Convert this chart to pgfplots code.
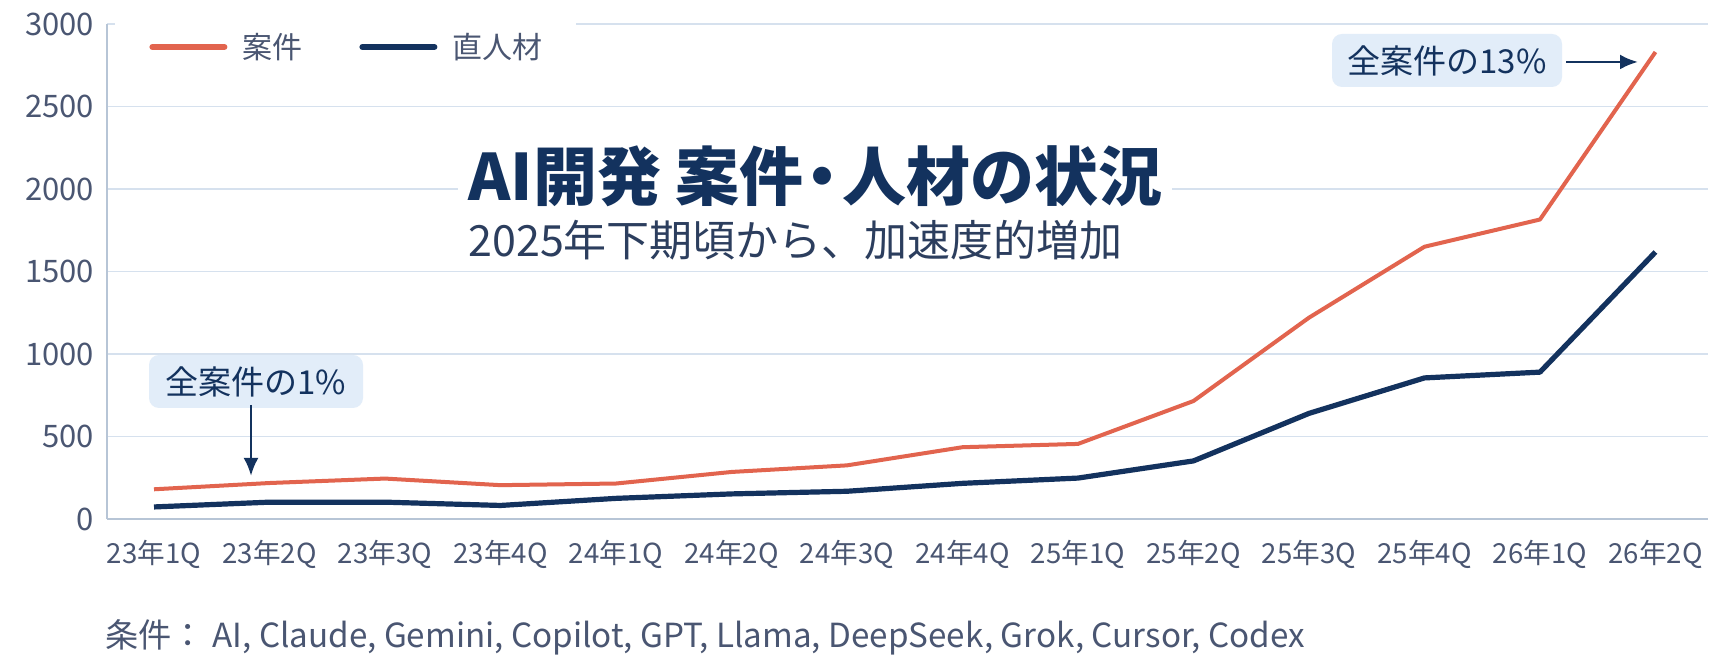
\documentclass[border=0pt]{standalone}
\usepackage{fontspec}
\setmainfont{Noto Sans CJK JP}
\usepackage{pgfplots}
\pgfplotsset{compat=1.18}
\usetikzlibrary{arrows.meta}

\definecolor{anken}{HTML}{E2644E}
\definecolor{jinzai}{HTML}{13325E}
\definecolor{gridc}{HTML}{D6E1EE}
\definecolor{axisc}{HTML}{B7C5D6}
\definecolor{tickc}{HTML}{4A5672}
\definecolor{boxc}{HTML}{E2EDF9}
\definecolor{subc}{HTML}{2C3E5E}

% quarterly counts
\pgfplotstableread{
q  anken jinzai
0  180   73
1  218   102
2  245   102
3  205   82
4  215   125
5  285   152
6  325   168
7  435   216
8  455   248
9  715   352
10 1220  640
11 1650  855
12 1815  890
13 2830  1618
}\qdata

\begin{document}
\begin{tikzpicture}
\path[use as bounding box, fill=white] (0pt,0pt) rectangle (863.5pt,336pt);
\begin{axis}[
  at={(53.5pt,76.5pt)}, anchor=south west,
  scale only axis, width=800.5pt, height=247.5pt,
  xmin=-0.407, xmax=13.455, ymin=0, ymax=3000,
  axis lines=left,
  axis line style={-, draw=axisc},
  x axis line style={line width=1.4pt},
  y axis line style={line width=0.8pt},
  major tick length=0pt,
  ymajorgrids, grid style={gridc, line width=0.8pt},
  xtick={0,...,13},
  xticklabels={23年1Q,23年2Q,23年3Q,23年4Q,24年1Q,24年2Q,24年3Q,24年4Q,25年1Q,25年2Q,25年3Q,25年4Q,26年1Q,26年2Q},
  ytick={0,500,...,3000},
  /pgf/number format/assume math mode=true,
  /pgf/number format/1000 sep={},
  xticklabel style={font=\fontsize{13.8}{16}\selectfont, text=tickc, yshift=-7pt},
  yticklabel style={font=\fontsize{15.5}{18}\selectfont, text=tickc, xshift=-3pt},
  legend style={at={(axis description cs:0.005,0.9535)}, anchor=west,
    draw=none, fill=white, inner xsep=17pt, inner ysep=6pt,
    font=\fontsize{15}{18}\selectfont, text=tickc,
    nodes={inner sep=0pt},
    /tikz/every odd column/.append style={column sep=7.5pt},
    /tikz/every even column/.append style={column sep=28.5pt}},
  legend columns=2,
  legend image code/.code={\draw[#1, line width=3pt, line cap=round] (0pt,0pt) -- (36pt,0pt);},
]
\addplot[anken, line width=2pt, line join=round] table[x=q, y=anken] {\qdata};
\addlegendentry{案件}
\addplot[jinzai, line width=2.6pt, line join=round] table[x=q, y=jinzai] {\qdata};
\addlegendentry{直人材}
\end{axis}

\begin{scope}[x=0.5pt, y=0.5pt]
% title
\node[anchor=west, fill=white, inner xsep=5pt, inner ysep=4pt, text=jinzai,
  font=\bfseries\fontsize{32}{38}\selectfont] at (458,496)
  {AI開発 案件\hspace{-0.2em}・\hspace{-0.2em}人材の状況};
\node[anchor=west, inner sep=0pt, text=subc,
  font=\fontsize{21.5}{26}\selectfont] at (468,432) {2025年下期頃から、加速度的増加};
% callouts
\node[fill=boxc, rounded corners=5pt, minimum width=107pt, minimum height=26.5pt,
  text=jinzai, font=\fontsize{16.5}{20}\selectfont] at (256,290.5) {全案件の1\%};
\draw[jinzai, line width=1.4pt, -{Latex[length=9pt,width=7.5pt]}] (251,267) -- (251,196);
\node[fill=boxc, rounded corners=5pt, minimum width=115pt, minimum height=26.5pt,
  text=jinzai, font=\fontsize{16.5}{20}\selectfont] at (1447,611.5) {全案件の13\%};
\draw[jinzai, line width=1.4pt, -{Latex[length=9pt,width=7.5pt]}] (1566,610) -- (1638,610);
% footnote
\node[anchor=west, inner sep=0pt, text=tickc, font=\fontsize{16.6}{20}\selectfont]
  at (105,35) {条件： AI, Claude, Gemini, Copilot, GPT, Llama, DeepSeek, Grok, Cursor, Codex};
\end{scope}
\end{tikzpicture}
\end{document}
